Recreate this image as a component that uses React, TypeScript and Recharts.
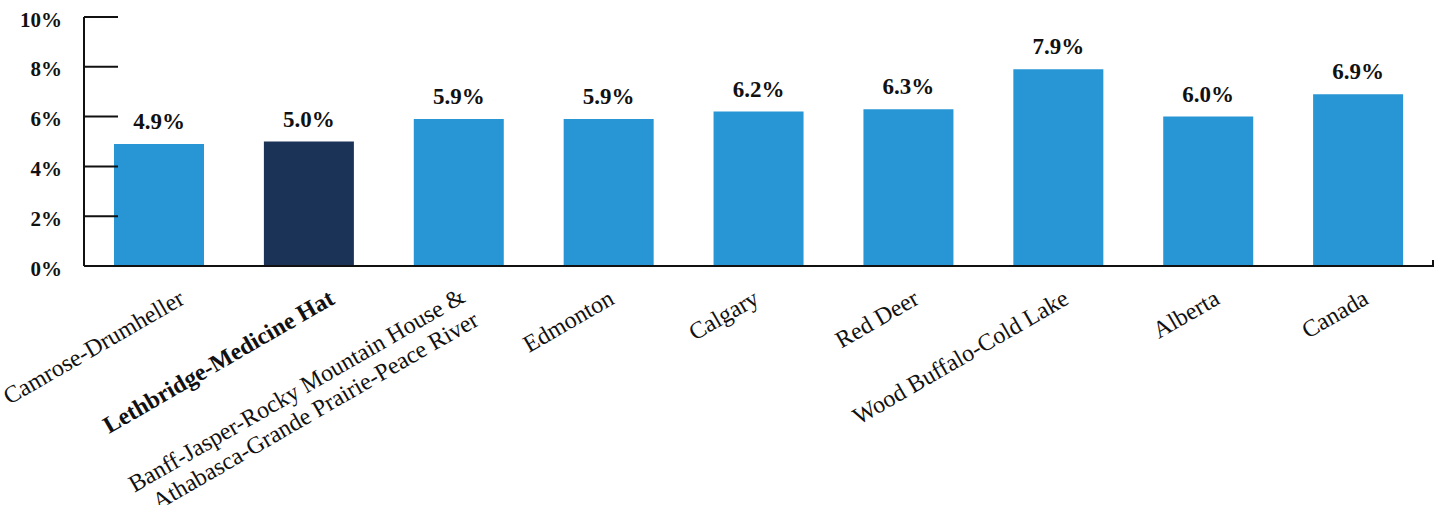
import { Bar, BarChart, Cell, LabelList, XAxis, YAxis } from "recharts";

const regions = [
  "Camrose-Drumheller",
  "Lethbridge-Medicine Hat",
  "Banff-Jasper-Rocky Mountain House &\nAthabasca-Grande Prairie-Peace River",
  "Edmonton",
  "Calgary",
  "Red Deer",
  "Wood Buffalo-Cold Lake",
  "Alberta",
  "Canada",
];
const rates = [4.9, 5.0, 5.9, 5.9, 6.2, 6.3, 7.9, 6.0, 6.9];
const yTicks = [0, 2, 4, 6, 8, 10];
const highlight = "Lethbridge-Medicine Hat";

const data = regions.map((name, i) => ({ name, rate: rates[i] }));

const FONT = '"Liberation Serif", "Times New Roman", serif';
const INK = "#111";
const AXIS_X = 84;
const PLOT_RIGHT = 1433;
// small per-label horizontal nudges so the rotated labels sit like the original
const labelNudge = [27, 27, 8, 7, 2, 12, 12, 13, 12];

function YTick(props: any) {
  const { y, payload } = props;
  return (
    <g>
      <line x1={AXIS_X} x2={AXIS_X + 34} y1={y} y2={y} stroke={INK} strokeWidth={2} />
      <text
        x={62}
        y={y}
        dy={9.5}
        textAnchor="end"
        fontFamily={FONT}
        fontWeight="bold"
        fontSize={21}
        fill={INK}
      >
        {payload.value}%
      </text>
      {payload.value === 0 && (
        <line x1={PLOT_RIGHT} x2={PLOT_RIGHT} y1={y - 6} y2={y + 1} stroke={INK} strokeWidth={2} />
      )}
    </g>
  );
}

function XTick(props: any) {
  const { x, y, payload, index } = props;
  const lines = String(payload.value).split("\n");
  const ax = x + (labelNudge[index] ?? 10);
  const ay = y + (lines.length > 1 ? 35 : 37);
  const bold = payload.value === highlight;
  return (
    <text
      x={ax}
      y={ay}
      transform={`rotate(-30, ${ax}, ${ay})`}
      textAnchor="end"
      fontFamily={FONT}
      fontSize={24}
      fontWeight={bold ? "bold" : "normal"}
      fill={INK}
    >
      {lines.map((l, i) => (
        <tspan key={i} x={ax} dy={i === 0 ? 0 : 27}>
          {l}
        </tspan>
      ))}
    </text>
  );
}

export default function App() {
  return (
    <div style={{ position: "absolute", left: 0, top: 0, width: 1439, height: 505, background: "#fff" }}>
      <BarChart
        width={1439}
        height={505}
        data={data}
        margin={{ top: 17, right: 1439 - PLOT_RIGHT, left: 0, bottom: 0 }}
      >
        <XAxis
          dataKey="name"
          interval={0}
          height={239}
          axisLine={{ stroke: INK, strokeWidth: 2 }}
          tickLine={false}
          tickSize={0}
          tickMargin={0}
          tick={<XTick />}
        />
        <YAxis
          domain={[0, 10]}
          ticks={yTicks}
          width={AXIS_X}
          axisLine={{ stroke: INK, strokeWidth: 2 }}
          tickLine={false}
          tick={<YTick />}
        />
        <Bar dataKey="rate" barSize={90} isAnimationActive={false}>
          {data.map((d) => (
            <Cell key={d.name} fill={d.name === highlight ? "#1c3358" : "#2896d4"} />
          ))}
          <LabelList
            dataKey="rate"
            position="top"
            offset={15}
            formatter={(v: any) => `${Number(v).toFixed(1)}%`}
            fontFamily={FONT}
            fontWeight="bold"
            fontSize={23}
            fill={INK}
          />
        </Bar>
      </BarChart>
    </div>
  );
}
